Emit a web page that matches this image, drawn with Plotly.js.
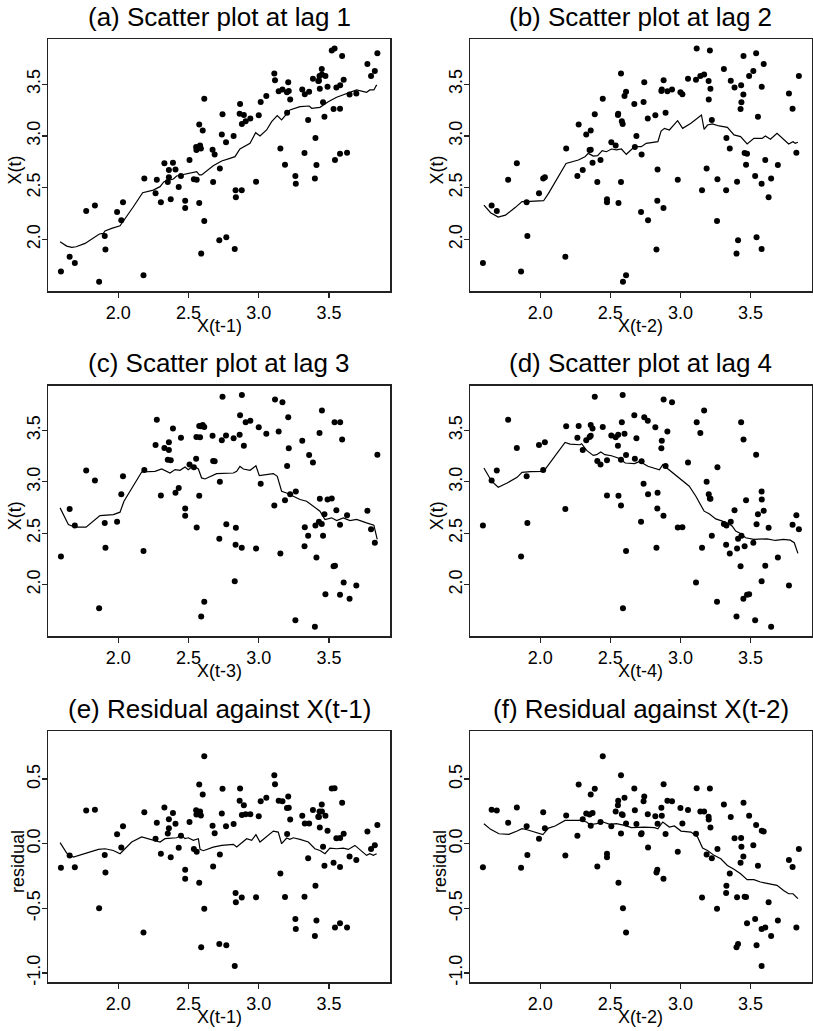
<!DOCTYPE html>
<html><head><meta charset="utf-8">
<script src="https://cdn.plot.ly/plotly-3.0.1.min.js"></script>
<style>html,body{margin:0;padding:0;background:#fff;} #chart{width:813px;height:1031px;}</style>
</head><body><div id="chart"></div>
<script>
// log10 of the annual lynx trappings series (114 years)
const logLynx = [
 2.430, 2.507, 2.767, 2.940, 3.169, 3.450, 3.594, 3.774, 3.695, 3.411,
 2.719, 1.991, 2.265, 2.446, 2.612, 3.359, 3.429, 3.533, 3.261, 2.612,
 2.179, 1.653, 1.833, 2.328, 2.737, 3.014, 3.328, 3.404, 2.981, 2.558,
 2.576, 2.352, 2.556, 2.864, 3.214, 3.435, 3.458, 3.326, 2.835, 2.476,
 2.373, 2.389, 2.742, 3.210, 3.520, 3.827, 3.629, 2.837, 2.407, 2.675,
 2.554, 2.894, 3.202, 3.224, 3.352, 3.154, 2.879, 2.476, 2.303, 2.360,
 2.671, 2.867, 3.310, 3.449, 3.647, 3.400, 2.590, 1.863, 1.591, 1.690,
 1.771, 2.274, 2.576, 3.111, 3.605, 3.543, 2.769, 2.021, 2.185, 2.588,
 2.880, 3.116, 3.540, 3.845, 3.800, 3.579, 3.264, 2.538, 2.582, 2.907,
 3.142, 3.433, 3.580, 3.490, 3.475, 3.579, 2.829, 1.908, 1.903, 2.033,
 2.360, 2.601, 3.054, 3.386, 3.553, 3.468, 3.187, 2.723, 2.686, 2.821,
 3.000, 3.201, 3.424, 3.531
];
// residuals of the linear lag-1 fit, for t = 2..114
const residual = [
 -0.031, 0.168, 0.136, 0.228, 0.328, 0.250, 0.317, 0.095, -0.126, -0.594,
 -0.775, 0.074, 0.039, 0.062, 0.677, 0.157, 0.206, -0.148, -0.582, -0.503,
 -0.686, -0.091, 0.262, 0.280, 0.234, 0.329, 0.157, -0.326, -0.415, -0.063,
 -0.301, 0.080, 0.227, 0.333, 0.278, 0.126, -0.024, -0.411, -0.382, -0.201,
 -0.104, 0.237, 0.426, 0.366, 0.428, -0.012, -0.648, -0.452, 0.155, -0.177,
 0.258, 0.298, 0.076, 0.187, -0.112, -0.231, -0.416, -0.271, -0.077, 0.189,
 0.139, 0.427, 0.216, 0.304, -0.099, -0.714, -0.801, -0.499, -0.185, -0.182,
 0.257, 0.162, 0.458, 0.529, 0.077, -0.648, -0.785, -0.030, 0.244, 0.218,
 0.223, 0.460, 0.430, 0.144, -0.041, -0.181, -0.659, -0.041, 0.249, 0.228,
 0.333, 0.250, 0.044, 0.100, 0.216, -0.616, -0.945, -0.222, -0.088, 0.136,
 0.119, 0.381, 0.355, 0.260, 0.043, -0.171, -0.413, -0.083, 0.081, 0.153,
 0.213, 0.277, 0.208
];
// smoothed curves
const smoothA_x = [1.585,1.632,1.668,1.699,1.763,1.810,1.865,1.893,1.905,1.953,2.012,2.107,2.173,2.249,2.297,2.325,2.392,2.415,2.487,2.522,2.558,2.577,2.593,2.676,2.736,2.795,2.831,2.866,2.938,2.978,3.009,3.056,3.092,3.132,3.163,3.222,3.294,3.360,3.377,3.436,3.460,3.495,3.555,3.626,3.697,3.768,3.792,3.820,3.840];
const smoothA_y = [1.977,1.935,1.923,1.929,1.961,2.000,2.052,2.058,2.081,2.106,2.132,2.316,2.452,2.477,2.510,2.558,2.584,2.613,2.632,2.639,2.655,2.623,2.623,2.713,2.758,2.784,2.800,2.874,2.929,3.032,3.000,3.058,3.139,3.197,3.155,3.252,3.284,3.290,3.268,3.277,3.300,3.332,3.374,3.413,3.445,3.423,3.445,3.445,3.494];
const smoothB_x = [1.598,1.646,1.700,1.752,1.823,1.870,1.929,2.024,2.059,2.184,2.272,2.319,2.343,2.378,2.409,2.442,2.472,2.508,2.543,2.579,2.614,2.673,2.721,2.756,2.839,2.862,2.886,2.921,2.980,3.016,3.075,3.134,3.150,3.169,3.193,3.228,3.276,3.335,3.382,3.429,3.476,3.524,3.583,3.606,3.642,3.689,3.736,3.772,3.803,3.819,3.838];
const smoothB_y = [2.332,2.258,2.216,2.235,2.310,2.365,2.368,2.374,2.445,2.735,2.768,2.800,2.832,2.806,2.810,2.858,2.848,2.874,2.865,2.874,2.823,2.897,2.897,2.929,2.945,3.048,3.074,3.058,3.148,3.074,3.123,3.187,3.203,3.065,3.106,3.116,3.097,3.084,3.010,2.994,2.923,2.977,2.977,3.000,2.968,3.026,2.968,2.923,2.945,2.929,2.939];
const smoothC_x = [1.585,1.644,1.691,1.770,1.869,1.964,2.012,2.040,2.166,2.261,2.309,2.368,2.404,2.439,2.475,2.498,2.534,2.570,2.593,2.617,2.700,2.819,2.843,2.866,2.890,2.938,2.980,3.004,3.104,3.132,3.163,3.199,3.246,3.294,3.341,3.400,3.436,3.472,3.519,3.555,3.602,3.650,3.697,3.768,3.820,3.844];
const smoothC_y = [2.747,2.585,2.559,2.559,2.672,2.682,2.705,2.812,3.096,3.102,3.125,3.086,3.119,3.112,3.145,3.119,3.157,3.125,3.038,3.028,3.080,3.086,3.102,3.151,3.125,3.112,3.157,3.060,3.080,3.054,2.909,2.892,2.860,2.828,2.812,2.757,2.715,2.634,2.650,2.624,2.650,2.624,2.634,2.601,2.579,2.440];
const smoothD_x = [1.598,1.653,1.700,1.764,1.835,1.870,1.929,2.024,2.177,2.213,2.283,2.295,2.331,2.378,2.402,2.432,2.461,2.508,2.555,2.607,2.673,2.709,2.768,2.850,2.874,2.933,2.980,3.028,3.063,3.110,3.158,3.169,3.205,3.252,3.299,3.347,3.370,3.394,3.429,3.465,3.524,3.571,3.618,3.677,3.736,3.784,3.812,3.838];
const smoothD_y = [3.135,3.006,2.947,2.989,3.044,3.093,3.099,3.102,3.384,3.367,3.361,3.371,3.306,3.257,3.264,3.290,3.264,3.254,3.232,3.183,3.177,3.199,3.151,3.118,3.167,3.102,3.054,2.996,2.957,2.860,2.747,2.715,2.689,2.640,2.618,2.592,2.569,2.521,2.498,2.456,2.440,2.440,2.446,2.430,2.440,2.433,2.408,2.304];
const smoothE_x = [1.585,1.632,1.680,1.775,1.858,1.905,1.964,2.012,2.095,2.166,2.225,2.297,2.332,2.415,2.451,2.475,2.498,2.534,2.570,2.582,2.605,2.676,2.736,2.819,2.843,2.914,2.950,2.980,3.009,3.068,3.104,3.139,3.163,3.199,3.222,3.246,3.294,3.353,3.400,3.436,3.472,3.507,3.555,3.602,3.638,3.685,3.733,3.768,3.792,3.816,3.840];
const smoothE_y = [0.008,-0.072,-0.103,-0.072,-0.044,-0.039,-0.052,-0.077,0.013,0.052,0.034,0.013,0.039,0.046,0.064,0.039,0.046,0.026,0.039,-0.044,-0.054,-0.026,-0.013,-0.005,-0.026,0.039,0.026,0.070,0.013,0.064,0.098,0.090,0.000,0.044,0.034,0.046,0.034,0.013,-0.039,-0.052,-0.077,-0.034,-0.039,-0.034,-0.044,-0.013,-0.059,-0.090,-0.077,-0.090,-0.077];
const smoothF_x = [1.598,1.646,1.705,1.776,1.835,1.870,1.906,1.965,2.019,2.059,2.106,2.177,2.283,2.331,2.354,2.402,2.449,2.496,2.543,2.602,2.650,2.744,2.815,2.839,2.874,2.921,2.957,3.004,3.075,3.122,3.158,3.193,3.240,3.288,3.335,3.382,3.429,3.476,3.524,3.571,3.606,3.642,3.689,3.736,3.772,3.803,3.838];
const smoothF_y = [0.155,0.111,0.077,0.072,0.098,0.116,0.108,0.090,0.070,0.121,0.137,0.180,0.180,0.168,0.147,0.155,0.168,0.150,0.155,0.142,0.124,0.129,0.124,0.116,0.168,0.129,0.137,0.098,0.090,0.052,-0.034,-0.052,-0.090,-0.116,-0.168,-0.198,-0.232,-0.278,-0.278,-0.296,-0.304,-0.317,-0.322,-0.361,-0.387,-0.387,-0.425];

const panelTitles = ['(a) Scatter plot at lag 1','(b) Scatter plot at lag 2','(c) Scatter plot at lag 3','(d) Scatter plot at lag 4','(e) Residual against X(t-1)','(f) Residual against X(t-2)'];
const xTitles = ['X(t-1)','X(t-2)','X(t-3)','X(t-4)','X(t-1)','X(t-2)'];
const yTitles = ['X(t)','X(t)','X(t)','X(t)','residual','residual'];
const xTickVals = [2.0,2.5,3.0,3.5];
const xTickText = ['2.0','2.5','3.0','3.5'];
const resTickVals = [-1.0,-0.5,0.0,0.5];
const resTickText = ['-1.0','-0.5','0.0','0.5'];

const W = 813, H = 1031;
const FONT = 'Liberation Sans, Arial, Helvetica, sans-serif';
const cols = [[48.3, 390], [470.3, 811.5]];
const rows = [[39.3, 291], [385.7, 636], [731, 982.3]];
const n = logLynx.length;

const scatterX = [], scatterY = [];
for (let k = 1; k <= 4; k++) { scatterX.push(logLynx.slice(0, n - k)); scatterY.push(logLynx.slice(k)); }
scatterX.push(logLynx.slice(0, n - 1)); scatterY.push(residual.slice(0));
scatterX.push(logLynx.slice(0, n - 2)); scatterY.push(residual.slice(1));
const smoothX = [smoothA_x, smoothB_x, smoothC_x, smoothD_x, smoothE_x, smoothF_x];
const smoothY = [smoothA_y, smoothB_y, smoothC_y, smoothD_y, smoothE_y, smoothF_y];

const data = [];
const layout = {
  width: W, height: H, margin: {l:0, r:0, t:0, b:0},
  paper_bgcolor: '#fff', plot_bgcolor: '#fff', showlegend: false,
  font: {family: FONT, color: '#000', size: 18},
  annotations: []
};
for (let p = 0; p < 6; p++) {
  const r = Math.floor(p / 2), c = p % 2;
  const sfx = p === 0 ? '' : String(p + 1);
  const xa = 'x' + sfx, ya = 'y' + sfx;
  data.push({type:'scatter', mode:'markers', x: scatterX[p], y: scatterY[p], xaxis: xa, yaxis: ya,
    marker: {color:'#000', size: 6, line:{width:0}}, hoverinfo:'skip'});
  data.push({type:'scatter', mode:'lines', x: smoothX[p], y: smoothY[p], xaxis: xa, yaxis: ya,
    line: {color:'#000', width: 1.2}, hoverinfo:'skip'});
  const isRes = p >= 4;
  const common = {showgrid:false, zeroline:false, showline:true, mirror:true, linecolor:'#222', linewidth:1.5,
    ticks:'outside', ticklen:5, tickwidth:1.2, tickcolor:'#222', tickfont:{family:FONT, size:18, color:'#000'}};
  layout['xaxis' + sfx] = Object.assign({}, common, {
    domain: [cols[c][0] / W, cols[c][1] / W], anchor: ya, range: [1.501, 3.935],
    tickmode:'array', tickvals: xTickVals, ticktext: xTickText});
  layout['yaxis' + sfx] = Object.assign({}, common, {
    domain: [1 - rows[r][1] / H, 1 - rows[r][0] / H], anchor: xa,
    range: isRes ? [-1.072, 0.872] : [1.501, 3.935], tickangle: -90, ticklabelstandoff: -5,
    tickmode:'array', tickvals: isRes ? resTickVals : xTickVals, ticktext: isRes ? resTickText : xTickText});
  const cx = (cols[c][0] + cols[c][1]) / 2;
  layout.annotations.push({xref:'paper', yref:'paper', x: cx / W, y: 1 - (rows[r][0] - 22.5) / H,
    xanchor:'center', yanchor:'middle', text: panelTitles[p], showarrow:false, font:{family:FONT, size:26, color:'#000'}});
  layout.annotations.push({xref:'paper', yref:'paper', x: cx / W, y: 1 - (rows[r][1] + 35) / H,
    xanchor:'center', yanchor:'middle', text: xTitles[p], showarrow:false, font:{family:FONT, size:18, color:'#000'}});
  layout.annotations.push({xref:'paper', yref:'paper', x: (cols[c][0] - (isRes ? 31 : 33)) / W, y: 1 - ((rows[r][0] + rows[r][1]) / 2 + 5) / H,
    xanchor:'center', yanchor:'middle', textangle: -90, text: yTitles[p], showarrow:false, font:{family:FONT, size:18, color:'#000'}});
}
Plotly.newPlot('chart', data, layout, {displayModeBar:false, staticPlot:true});
</script>
</body></html>
